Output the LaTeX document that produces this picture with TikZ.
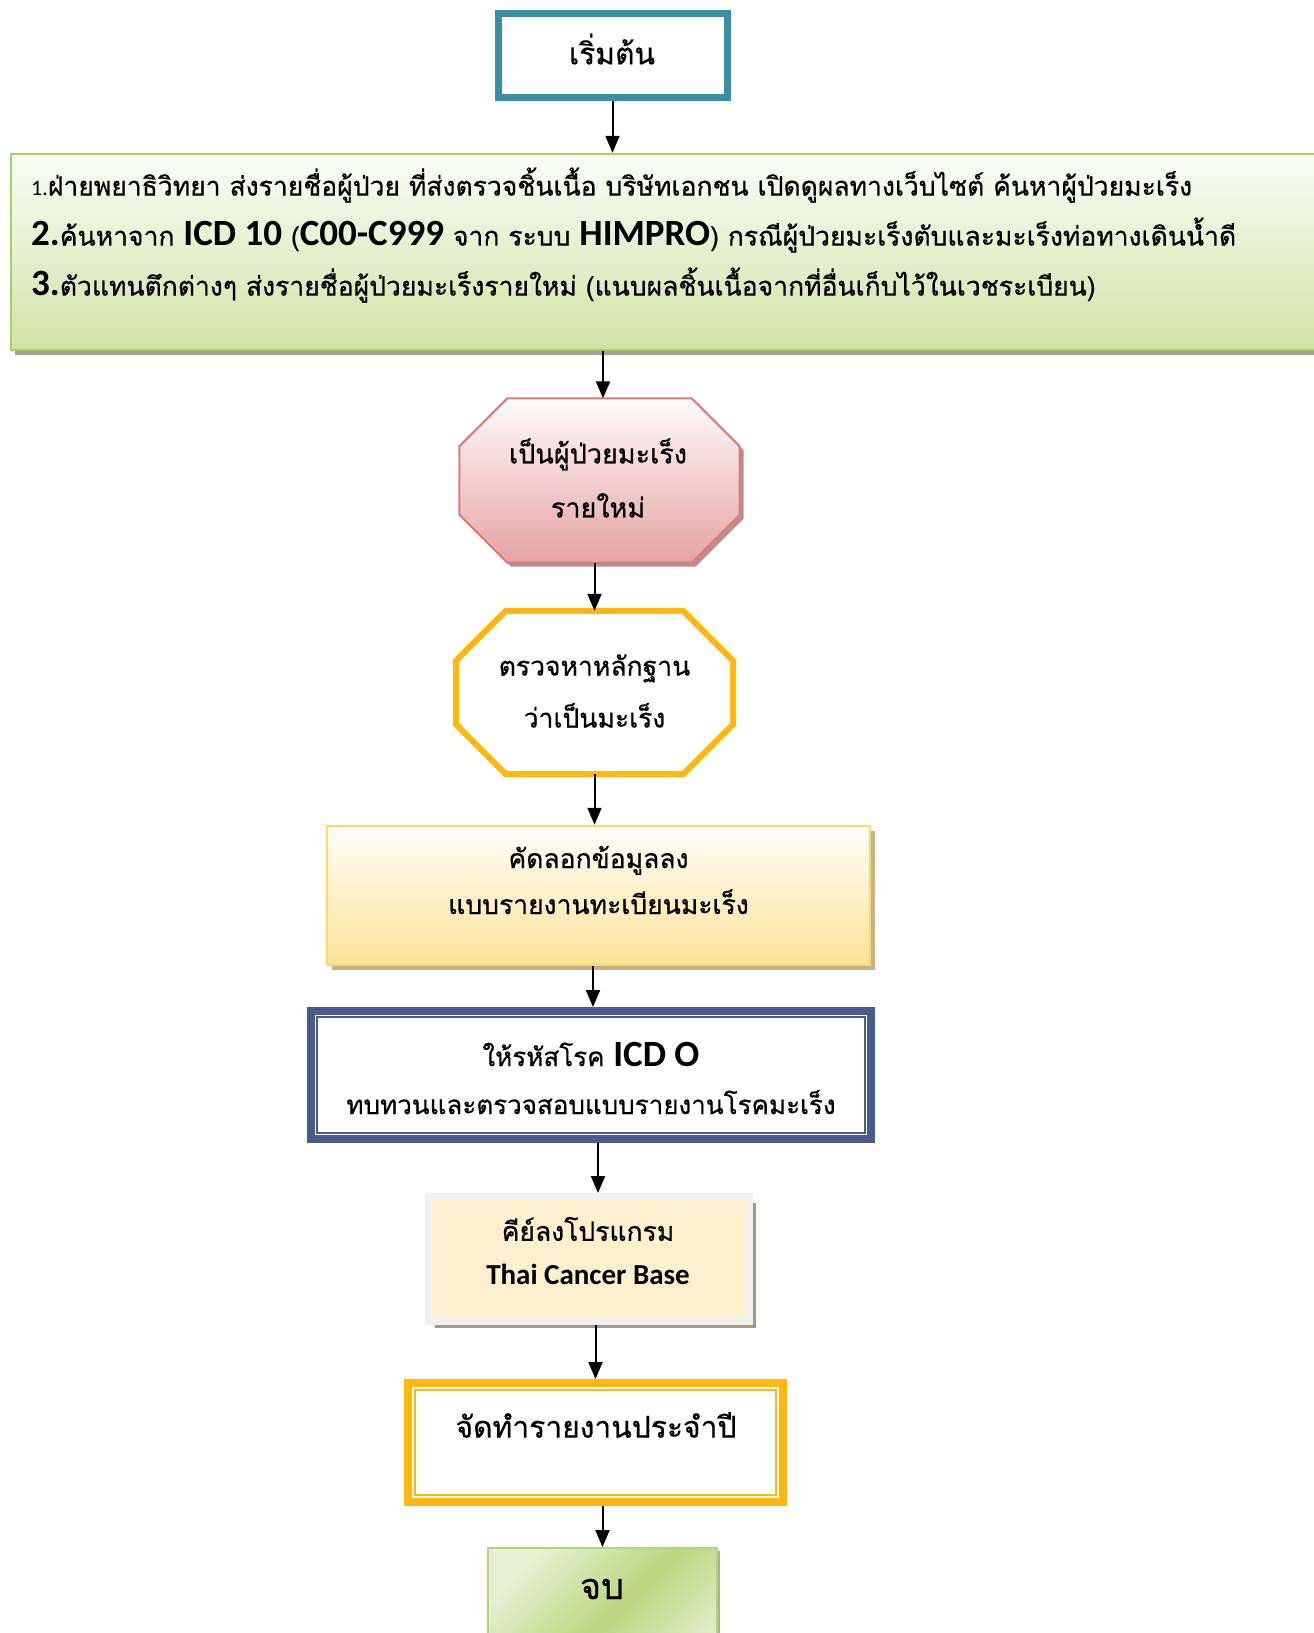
\documentclass[tikz,border=0pt]{standalone}
\usepackage{fontspec}
\setmainfont[Script=Thai, FakeBold=0.6]{Loma}
\newfontfamily\latinfont{Carlito}
\usepackage{xcolor}
\usepackage{tikz}
\usetikzlibrary{arrows.meta}
\usetikzlibrary{shadows}

\definecolor{startline}{HTML}{3B8FA5}
\definecolor{searchline}{HTML}{A8CE6E}
\definecolor{searchtop}{HTML}{FBFDF7}
\definecolor{searchbot}{HTML}{D0E3A4}
\definecolor{searchshadow}{HTML}{9EA38E}
\definecolor{newline}{HTML}{D97C7C}
\definecolor{newtop}{HTML}{FEFBFB}
\definecolor{newbot}{HTML}{E7A3A3}
\definecolor{newshadow}{HTML}{BC8E8E}
\definecolor{evidline}{HTML}{FFB80F}
\definecolor{copyline}{HTML}{FFD968}
\definecolor{copytop}{HTML}{FFFDF8}
\definecolor{copybot}{HTML}{FDE399}
\definecolor{copyshadow}{HTML}{C5B289}
\definecolor{icdline}{HTML}{4A5A8D}
\definecolor{keyfill}{HTML}{FEEFCD}
\definecolor{keyline}{HTML}{F1F1F1}
\definecolor{keyshadow}{HTML}{A6978A}
\definecolor{reportline}{HTML}{FFB80F}
\definecolor{enddark}{HTML}{B9D67F}
\definecolor{endlight}{HTML}{E7F0D2}
\definecolor{endline}{HTML}{B3D47B}
\definecolor{endshadow}{HTML}{A3B78A}

\newcommand{\setsize}[2]{\fontsize{#1}{#2}\selectfont}
\newcommand{\en}[2][37pt]{{\latinfont\bfseries\fontsize{#1}{#1}\selectfont #2}}

\tikzset{
    flow/.style={line width=2pt, -{Triangle[length=17pt, width=14pt]}},
    txt/.style={inner sep=0pt, align=center, font=\setsize{26.5pt}{50pt}},
    octnode/.style={inner sep=0pt, minimum width=#1},
    oct/.style 2 args={insert path={([xshift=#2]#1.north west) -- ([xshift=-#2]#1.north east) -- ([yshift=-#2]#1.north east) -- ([yshift=#2]#1.south east) -- ([xshift=-#2]#1.south east) -- ([xshift=#2]#1.south west) -- ([yshift=#2]#1.south west) -- ([yshift=-#2]#1.north west) -- cycle}},
    startbox/.style={draw=startline, line width=7pt, fill=white, inner sep=0pt, minimum width=229pt, minimum height=84pt},
    searchbox/.style={draw=searchline, line width=2.5pt, top color=searchtop, bottom color=searchbot, inner sep=0pt, minimum width=1329pt, minimum height=196pt, general shadow={fill=searchshadow, shadow xshift=4pt, shadow yshift=-5pt}},
    newcaseshape/.style={draw=newline, line width=2pt, top color=newtop, bottom color=newbot, general shadow={fill=newshadow, shadow xshift=4pt, shadow yshift=-4pt}},
    evidshape/.style={draw=evidline, line width=6pt, fill=white},
    copybox/.style={draw=copyline, line width=2.5pt, top color=copytop, bottom color=copybot, inner sep=0pt, minimum width=543pt, minimum height=139pt, general shadow={fill=copyshadow, shadow xshift=5pt, shadow yshift=-5pt}},
    icdbox/.style={draw=icdline, line width=8pt, fill=white, inner sep=0pt, minimum width=560pt, minimum height=128pt},
    icdinner/.style={draw=icdline, line width=2pt},
    keybox/.style={draw=keyline, line width=7pt, fill=keyfill, inner sep=0pt, minimum width=321pt, minimum height=125pt, general shadow={fill=keyshadow, shadow xshift=6.5pt, shadow yshift=-6.5pt}},
    reportbox/.style={draw=reportline, line width=8pt, fill=white, inner sep=0pt, minimum width=375pt, minimum height=119pt},
    reportinner/.style={draw=reportline, line width=2pt},
    finishbox/.style={draw=endline, line width=2pt, top color=endlight, bottom color=endlight, middle color=enddark, shading angle=45, inner sep=0pt, minimum width=229pt, minimum height=152pt, general shadow={fill=endshadow, shadow xshift=3pt, shadow yshift=-3pt}}
}

\begin{document}
\begin{tikzpicture}[x=1pt, y=-1pt]
        \useasboundingbox (0,0) rectangle (1314,1633);
        \clip (0,0) rectangle (1314,1633);

        \node [startbox] (start) at (612.5,55.5) {};
        \node [txt, font=\setsize{30pt}{50pt}] (starttxt) at (612,49) {เริ่มต้น};

        \node [searchbox] (search) at (675.5,252) {};
        \node [txt, align=left, anchor=west] (searchtxt) at (31,235) {{\latinfont\setsize{22pt}{50pt}1.}ฝ่ายพยาธิวิทยา ส่งรายชื่อผู้ป่วย ที่ส่งตรวจชิ้นเนื้อ บริษัทเอกชน เปิดดูผลทางเว็บไซต์ ค้นหาผู้ป่วยมะเร็ง\\
            \en{2.}ค้นหาจาก \en{ICD 10} (\en{C00-C999} จาก ระบบ \en{HIMPRO}) กรณีผู้ป่วยมะเร็งตับและมะเร็งท่อทางเดินน้ำดี\\
            \en{3.}ตัวแทนตึกต่างๆ ส่งรายชื่อผู้ป่วยมะเร็งรายใหม่ (แนบผลชิ้นเนื้อจากที่อื่นเก็บไว้ในเวชระเบียน)};

        \node [octnode=280pt, minimum height=164pt] (newcase) at (599.5,480.5) {};
        \path [newcaseshape, oct={newcase}{48pt}];
        \node [txt, font=\setsize{27pt}{54pt}] (newcasetxt) at (598,478) {เป็นผู้ป่วยมะเร็ง\\รายใหม่};

        \node [octnode=277pt, minimum height=163pt] (evidence) at (594.5,692.5) {};
        \path [evidshape, oct={evidence}{50pt}];
        \node [txt, font=\setsize{26.5pt}{52pt}] (evidencetxt) at (594.5,691) {ตรวจหาหลักฐาน\\ว่าเป็นมะเร็ง};

        \node [copybox] (copy) at (598.5,895.5) {};
        \node [txt, font=\setsize{26.5pt}{46pt}] (copytxt) at (598.5,880) {คัดลอกข้อมูลลง\\แบบรายงานทะเบียนมะเร็ง};

        \node [icdbox] (icd) at (591,1075) {};
        \draw [icdinner] ([shift={(10pt,-10pt)}]icd.north west) rectangle ([shift={(-10pt,10pt)}]icd.south east);
        \node [txt, font=\setsize{26pt}{48pt}] (icdtxt) at (591,1078) {ให้รหัสโรค \en{ICD O}\\ทบทวนและตรวจสอบแบบรายงานโรคมะเร็ง};

        \node [keybox] (key) at (589,1259) {};
        \node [txt, font=\setsize{26.5pt}{44pt}] (keytxt) at (588,1251) {คีย์ลงโปรแกรม\\\en[29pt]{Thai Cancer Base}};

        \node [reportbox] (report) at (595.5,1442.5) {};
        \draw [reportinner] ([shift={(11pt,-11pt)}]report.north west) rectangle ([shift={(-11pt,11pt)}]report.south east);
        \node [txt, font=\setsize{30pt}{50pt}] (reporttxt) at (596,1425) {จัดทำรายงานประจำปี};

        \node [finishbox] (finish) at (602.5,1624) {};
        \node [txt, font=\setsize{36pt}{50pt}] (finishtxt) at (602,1589) {จบ};

        \draw [flow] (start.south) -- (start.south |- search.north);
        \draw [flow] ([xshift=3.5pt]newcase.north |- search.south) -- ([xshift=3.5pt]newcase.north);
        \draw [flow] (evidence.north |- newcase.south) -- (evidence.north);
        \draw [flow] (evidence.south) -- (evidence.south |- copy.north);
        \draw [flow] ([xshift=2pt]icd.north |- copy.south) -- ([xshift=2pt]icd.north);
        \draw [flow] ([xshift=7pt]icd.south) -- ([xshift=7pt]icd.south |- key.north);
        \draw [flow] (report.north |- key.south) -- (report.north);
        \draw [flow] (finish.north |- report.south) -- (finish.north);
\end{tikzpicture}
\end{document}
